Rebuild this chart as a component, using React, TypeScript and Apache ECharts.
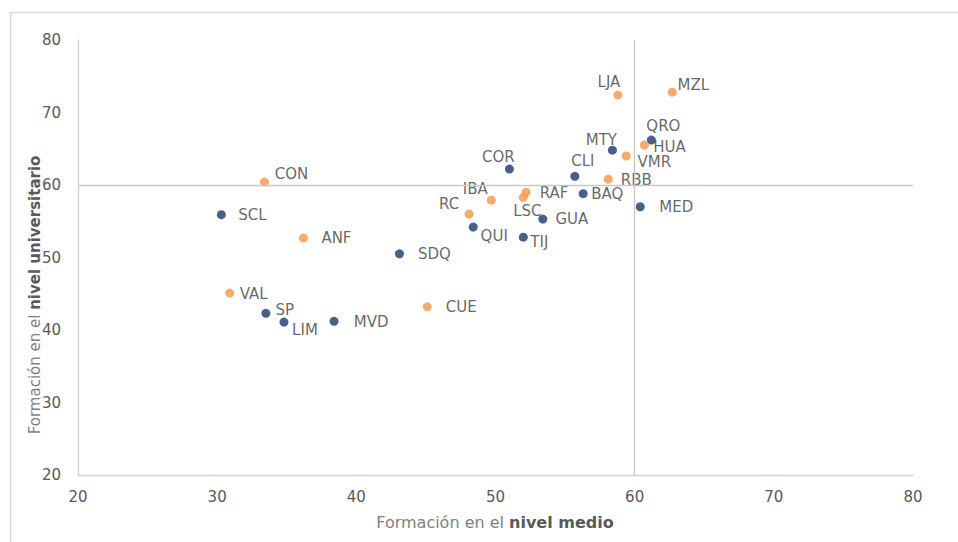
import React, { useEffect, useRef } from "react";
import * as echarts from "echarts";

const codes = ["LJA", "MZL", "QRO", "HUA", "MTY", "VMR", "CLI", "RBB", "COR", "CON", "SCL", "IBA", "RAF", "LSC", "BAQ", "MED", "RC", "GUA", "QUI", "TIJ", "ANF", "SDQ", "VAL", "SP", "LIM", "MVD", "CUE"];
const nivelMedio = [58.8, 62.7, 61.2, 60.7, 58.4, 59.4, 55.7, 58.1, 51.0, 33.4, 30.3, 49.7, 52.2, 52.0, 56.3, 60.4, 48.1, 53.4, 48.4, 52.0, 36.2, 43.1, 30.9, 33.5, 34.8, 38.4, 45.1];
const nivelUniversitario = [72.4, 72.8, 66.2, 65.5, 64.8, 64.0, 61.2, 60.8, 62.2, 60.4, 55.9, 57.9, 59.0, 58.3, 58.8, 57.0, 56.0, 55.3, 54.2, 52.8, 52.7, 50.5, 45.1, 42.3, 41.1, 41.2, 43.2];
const grupo = ["o", "o", "b", "o", "b", "o", "b", "o", "b", "o", "b", "o", "o", "o", "b", "b", "o", "b", "b", "b", "o", "b", "o", "b", "b", "b", "o"];
const xTicks = [20, 30, 40, 50, 60, 70, 80];
const yTicks = [20, 30, 40, 50, 60, 70, 80];
const referencia = { x: 60, y: 60 };

// label placement (pixel offsets of label centre from the point)
const labelOffsets: Record<string, [number, number]> = {
  LJA: [-9, -13], MZL: [21, -7], QRO: [12, -14], HUA: [25, 2], MTY: [-11, -10],
  VMR: [28, 6], CLI: [8, -15], RBB: [28, 1], COR: [-11, -12], CON: [27, -8],
  SCL: [31, 0], IBA: [-16, -11], RAF: [28, 1], LSC: [4, 14], BAQ: [24, 0],
  MED: [36, 0], RC: [-20, -10], GUA: [29, 0], QUI: [21, 9], TIJ: [16, 5],
  ANF: [33, 0], SDQ: [35, 0], VAL: [24, 1], SP: [19, -3], LIM: [21, 8],
  MVD: [37, 1], CUE: [34, 0],
};

const FONT = "DejaVu Sans";

export default function App() {
  const ref = useRef<HTMLDivElement>(null);
  useEffect(() => {
    if (!ref.current) return;
    const chart = echarts.init(ref.current, undefined, { renderer: "svg" });
    const build = (g: string) =>
      codes
        .map((c, i) => ({ c, i }))
        .filter((d) => grupo[d.i] === g)
        .map(({ c, i }) => ({
          name: c,
          value: [nivelMedio[i], nivelUniversitario[i]],
          label: { offset: labelOffsets[c] || [20, 0] },
        }));
    const labelCfg = {
      show: true,
      position: "inside",
      formatter: "{b}",
      color: "#404040",
      fontSize: 15,
      lineHeight: 14,
      fontFamily: FONT,
      align: "center",
      verticalAlign: "middle",
    };
    chart.setOption({
      animation: false,
      textStyle: { fontFamily: FONT },
      grid: { left: 78, right: 45, top: 40, bottom: 67, containLabel: false },
      xAxis: {
        type: "value",
        min: xTicks[0],
        max: xTicks[xTicks.length - 1],
        interval: xTicks[1] - xTicks[0],
        axisLine: { show: true, lineStyle: { color: "#d0d0d0", width: 1.3 } },
        axisTick: { show: false },
        splitLine: { show: false },
        axisLabel: { color: "#595959", fontSize: 15, margin: 14, fontFamily: FONT },
      },
      yAxis: {
        type: "value",
        min: yTicks[0],
        max: yTicks[yTicks.length - 1],
        interval: yTicks[1] - yTicks[0],
        axisLine: { show: true, lineStyle: { color: "#d0d0d0", width: 1.3 } },
        axisTick: { show: false },
        splitLine: { show: false },
        axisLabel: { color: "#595959", fontSize: 15, margin: 17, fontFamily: FONT },
      },
      graphic: [
        {
          type: "rect",
          shape: { x: 10.5, y: 12.5, width: 980, height: 560 },
          style: { fill: "none", stroke: "#d9d9d9", lineWidth: 1.5 },
          silent: true,
        },
        {
          type: "text",
          x: 495,
          y: 522,
          style: {
            text: "{n|Formación en el }{b|nivel medio}",
            align: "center",
            verticalAlign: "middle",
            rich: {
              n: { fontSize: 16, fill: "#7f7f7f", fontFamily: FONT },
              b: { fontSize: 16, fill: "#595959", fontWeight: "bold", fontFamily: FONT },
            },
          },
        },
        {
          type: "text",
          x: 35,
          y: 295,
          rotation: Math.PI / 2,
          style: {
            text: "{n|Formación en el }{b|nivel universitario}",
            align: "center",
            verticalAlign: "middle",
            rich: {
              n: { fontSize: 15, fill: "#7f7f7f", fontFamily: FONT },
              b: { fontSize: 15, fill: "#595959", fontWeight: "bold", fontFamily: FONT },
            },
          },
        },
      ],
      series: [
        {
          type: "scatter",
          symbolSize: 9,
          itemStyle: { color: "#1A3A6C" },
          data: build("b"),
          label: labelCfg,
          z: 3,
          markLine: {
            silent: true,
            symbol: "none",
            label: { show: false },
            lineStyle: { color: "#c8c8c8", width: 1.3, type: "solid" },
            data: [{ xAxis: referencia.x }, { yAxis: referencia.y }],
          },
        },
        {
          type: "scatter",
          symbolSize: 9,
          itemStyle: { color: "#F4964A" },
          data: build("o"),
          label: labelCfg,
          z: 3,
        },
      ],
    });
    return () => chart.dispose();
  }, []);
  return (
    <div
      ref={ref}
      style={{ position: "fixed", left: 0, top: 0, width: 958, height: 542, background: "#fff" }}
    />
  );
}
